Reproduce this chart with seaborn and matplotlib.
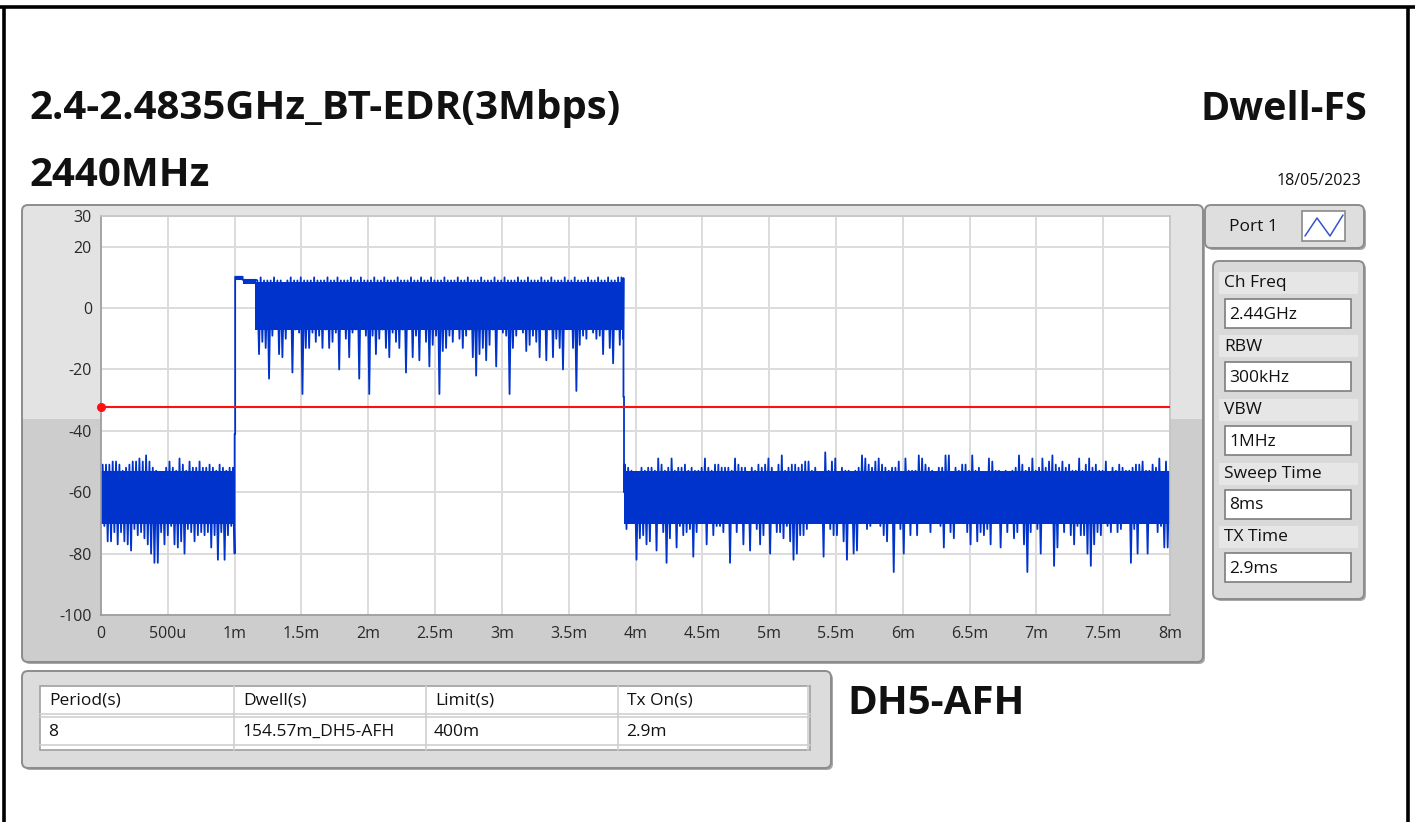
import numpy as np
import pandas as pd
import matplotlib
matplotlib.use("Agg")
import matplotlib.pyplot as plt
from matplotlib.patches import FancyBboxPatch, Rectangle
import seaborn as sns

# ---------------------------------------------------------------- data ----
title_left = "2.4-2.4835GHz_BT-EDR(3Mbps)"
title_right = "Dwell-FS"
channel_label = "2440MHz"
test_date = "18/05/2023"
packet_label = "DH5-AFH"
port_label = "Port 1"

param_names = ["Ch Freq", "RBW", "VBW", "Sweep Time", "TX Time"]
param_values = ["2.44GHz", "300kHz", "1MHz", "8ms", "2.9ms"]

table_header = ["Period(s)", "Dwell(s)", "Limit(s)", "Tx On(s)"]
table_row = ["8", "154.57m_DH5-AFH", "400m", "2.9m"]

time_ticks = [0, 0.5, 1, 1.5, 2, 2.5, 3, 3.5, 4, 4.5, 5, 5.5, 6, 6.5, 7, 7.5, 8]
time_labels = ["0", "500u", "1m", "1.5m", "2m", "2.5m", "3m", "3.5m", "4m",
               "4.5m", "5m", "5.5m", "6m", "6.5m", "7m", "7.5m", "8m"]
level_ticks = [30, 20, 0, -20, -40, -60, -80, -100]

limit_db = -32.2          # detection threshold (red line)
bin_ms = 0.025            # trace bin width, ms

# Idle noise before the packet: per-bin peak / trough (dBm)
idle_pre_start = 0.0125
idle_pre_hi = [-51, -51, -51, -50, -50, -51, -53, -52, -51, -50,
               -50, -49, -50, -48, -50, -52, -53, -55, -55, -52,
               -50, -52, -53, -49, -51, -53, -50, -52, -52, -50,
               -52, -52, -51, -52, -53, -51, -52, -53, -52, -52]
idle_pre_lo = [-71, -76, -76, -73, -77, -73, -76, -77, -79, -72,
               -74, -73, -75, -77, -80, -83, -83, -73, -77, -74,
               -71, -77, -78, -76, -80, -72, -73, -76, -74, -73,
               -74, -73, -78, -74, -82, -73, -82, -74, -71, -80]

# Packet (burst) body
burst_start = 1.17
burst_hi = [9, 10, 9, 9, 9, 10, 9, 9, 8, 9,
            10, 9, 9, 10, 9, 9, 9, 10, 9, 9,
            9, 10, 9, 9, 10, 9, 9, 9, 10, 9,
            9, 10, 9, 9, 9, 10, 9, 9, 10, 9,
            9, 9, 10, 9, 9, 9, 10, 9, 9, 10,
            9, 9, 10, 9, 9, 9, 10, 9, 9, 9,
            10, 9, 9, 10, 9, 9, 9, 10, 9, 9,
            9, 10, 9, 9, 10, 9, 9, 9, 10, 9,
            9, 10, 9, 9, 9, 10, 9, 9, 10, 9,
            9, 9, 10, 9, 9, 10, 9, 9, 9, 10,
            9, 9, 10, 9, 9, 10, 9, 9, 10, 10]
burst_lo = [-15, -11, -13, -23, -9, -6, -15, -16, -10, -6,
            -21, -7, -8, -28, -13, -13, -8, -11, -9, -13,
            -7, -13, -11, -8, -20, -6, -10, -16, -8, -7,
            -23, -6, -9, -28, -9, -15, -10, -7, -13, -16,
            -8, -11, -13, -7, -21, -6, -16, -9, -17, -6,
            -11, -19, -12, -9, -28, -14, -13, -9, -11, -6,
            -10, -13, -9, -7, -16, -22, -15, -13, -17, -12,
            -7, -19, -6, -8, -9, -28, -13, -9, -6, -8,
            -14, -12, -9, -11, -16, -7, -17, -7, -16, -10,
            -13, -20, -6, -6, -13, -27, -12, -9, -10, -6,
            -8, -10, -9, -15, -7, -13, -18, -7, -12, -10]

# Idle noise after the packet
idle_post_start = 3.92
idle_post_hi = [-51, -52, -53, -55, -54, -52, -53, -52, -52, -53,
                -49, -51, -53, -52, -49, -53, -52, -52, -51, -53,
                -52, -53, -53, -52, -49, -52, -53, -51, -51, -52,
                -52, -52, -53, -49, -51, -52, -52, -55, -52, -53,
                -51, -52, -51, -49, -52, -57, -51, -48, -53, -52,
                -51, -51, -52, -51, -50, -50, -53, -52, -55, -54,
                -47, -53, -50, -49, -55, -52, -53, -53, -56, -53,
                -52, -48, -49, -51, -52, -50, -49, -51, -52, -53,
                -52, -52, -50, -55, -49, -53, -53, -53, -48, -49,
                -51, -52, -53, -54, -52, -52, -48, -48, -54, -52,
                -53, -51, -51, -53, -48, -53, -52, -55, -55, -49,
                -50, -53, -53, -57, -53, -55, -53, -52, -48, -51,
                -53, -52, -49, -53, -52, -49, -52, -50, -48, -51,
                -52, -50, -52, -51, -53, -53, -49, -53, -51, -49,
                -52, -51, -53, -53, -50, -54, -52, -53, -51, -52,
                -53, -53, -52, -51, -51, -50, -53, -53, -51, -52,
                -49, -55, -50, -55]
idle_post_lo = [-72, -67, -68, -82, -75, -74, -77, -76, -65, -79,
                -69, -73, -83, -75, -66, -78, -71, -74, -73, -72,
                -81, -73, -69, -66, -77, -65, -74, -71, -71, -73,
                -67, -83, -66, -73, -70, -77, -65, -79, -66, -72,
                -77, -74, -66, -80, -69, -73, -73, -75, -71, -76,
                -82, -80, -74, -74, -72, -66, -70, -65, -68, -81,
                -67, -72, -74, -74, -66, -76, -82, -66, -80, -79,
                -70, -66, -72, -71, -66, -68, -71, -74, -76, -70,
                -86, -70, -72, -80, -65, -74, -65, -74, -67, -70,
                -65, -73, -70, -67, -71, -78, -65, -73, -75, -69,
                -68, -70, -73, -77, -66, -76, -73, -74, -72, -77,
                -66, -70, -78, -66, -73, -69, -75, -73, -66, -77,
                -86, -73, -67, -72, -80, -65, -69, -69, -84, -78,
                -66, -73, -66, -74, -77, -71, -74, -74, -80, -84,
                -77, -73, -74, -70, -71, -73, -66, -73, -72, -65,
                -66, -83, -72, -80, -65, -67, -80, -70, -66, -73,
                -71, -78, -78, -69]

# Level range that the trace fills solidly in each state
idle_body = (-70.5, -53.0)
burst_body = (-7.0, 8.6)

# Packet switch-on and switch-off edges
rise_t = [1.0, 1.0, 1.004, 1.004, 1.06, 1.06, 1.16]
rise_db = [-80, -41, -41, 10.2, 10.2, 9.2, 9.2]
ramp_t = [1.004, 1.06, 1.06, 1.16]
ramp_hi = [10.0, 10.0, 9.0, 9.0]
ramp_lo = [9.0, 9.0, 7.8, 7.8]
fall_t = [3.91, 3.91, 3.914, 3.914, 3.92]
fall_db = [9.8, -29, -29, -60, -60]

# -------------------------------------------------------------- style -----
sns.set_theme(style="white")
plt.rcParams["font.family"] = ["Open Sans", "DejaVu Sans"]

TRACE = "#0033cc"
INK = "#111111"
W, H = 1415, 822
fig = plt.figure(figsize=(W / 100, H / 100), dpi=100)
fig.patch.set_facecolor("white")

bg = fig.add_axes([0, 0, 1, 1])
bg.set_xlim(0, W)
bg.set_ylim(H, 0)
bg.axis("off")


def panel(x0, y0, x1, y1, top="#e3e3e3", bottom="#cdcdcd", split=None, r=6):
    style = f"round,pad=0,rounding_size={r}"
    bg.add_patch(FancyBboxPatch((x0 + 2, y0 + 2), x1 - x0, y1 - y0, boxstyle=style,
                                fc="#a8a8a8", ec="none", zorder=1))
    body = FancyBboxPatch((x0, y0), x1 - x0, y1 - y0, boxstyle=style,
                          fc=bottom if split else top, ec="none", zorder=2)
    bg.add_patch(body)
    if split:
        hl = Rectangle((x0, y0), x1 - x0, split - y0, fc=top, ec="none", zorder=2)
        bg.add_patch(hl)
        hl.set_clip_path(body)
    bg.add_patch(FancyBboxPatch((x0, y0), x1 - x0, y1 - y0, boxstyle=style,
                                fc="none", ec="#8c8c8c", lw=1.4, zorder=3))


def field(x0, y0, x1, y1, text, size=12.5):
    bg.add_patch(Rectangle((x0, y0), x1 - x0, y1 - y0, fc="white", ec="#7d7d7d",
                           lw=1.2, zorder=4))
    bg.text(x0 + 4, (y0 + y1) / 2 + 1, text, fontsize=size, color=INK,
            ha="left", va="center", zorder=5)


# outer frame
bg.plot([0, W], [7, 7], color="black", lw=2.6, solid_capstyle="butt")
bg.plot([3.5, 3.5], [7, H], color="black", lw=2.6, solid_capstyle="butt")
bg.plot([1407.5, 1407.5], [7, H], color="black", lw=2.6, solid_capstyle="butt")

# headings
bg.text(29, 109, title_left, fontsize=29, fontweight="bold", color=INK,
        ha="left", va="center")
bg.text(1367, 109, title_right, fontsize=28.5, fontweight="bold", color=INK,
        ha="right", va="center")
bg.text(29, 175, channel_label, fontsize=29, fontweight="bold", color=INK,
        ha="left", va="center")
bg.text(1361, 181, test_date, fontsize=11.5, color=INK, ha="right", va="center")
bg.text(847, 703, packet_label, fontsize=29, fontweight="bold", color=INK,
        ha="left", va="center")

# graph panel
panel(22, 205, 1203, 662, split=419)

# port panel with trace icon
panel(1205, 205, 1364, 248, top="#dedede")
bg.text(1229, 227, port_label, fontsize=12.5, color=INK, ha="left", va="center", zorder=5)
bg.add_patch(Rectangle((1302, 211), 43, 30, fc="white", ec="#8a8a8a", lw=1.2, zorder=4))
bg.plot([1305, 1317, 1330, 1343], [236, 218, 236, 215], color="#3355cc", lw=1.1, zorder=5)

# parameter panel
panel(1213, 261, 1364, 599, top="#d9d9d9")
for i, (name, value) in enumerate(zip(param_names, param_values)):
    y = 283 + 63.5 * i
    bg.add_patch(Rectangle((1219, y - 11), 139, 22, fc="#e6e6e6", ec="none", zorder=3))
    bg.text(1224, y, name, fontsize=12.5, color=INK, ha="left", va="center", zorder=5)
    field(1225, y + 16, 1351, y + 45, value)

# results table
panel(22, 671, 831, 768, top="#dcdcdc")
bg.add_patch(Rectangle((40, 686), 770, 64, fc="white", ec="#a0a0a0", lw=1.2, zorder=4))
col_x = [40, 234, 426, 618]
for x in col_x[1:] + [808]:
    bg.plot([x, x], [686, 750], color="#d0d0d0", lw=1.2, zorder=5)
for y in (714, 717, 745):
    bg.plot([40, 810], [y, y], color="#cfcfcf", lw=1.2, zorder=5)
for x, h, v in zip(col_x, table_header, table_row):
    bg.text(x + 9, 700, h, fontsize=12.5, color=INK, ha="left", va="center", zorder=6)
    bg.text(x + 8, 732, v, fontsize=12.5, color=INK, ha="left", va="center", zorder=6)

# ------------------------------------------------------------ graph -------
x0, y0, x1, y1 = 101, 216, 1170, 615
ax = fig.add_axes([x0 / W, 1 - y1 / H, (x1 - x0) / W, (y1 - y0) / H])
ax.set_facecolor("white")
ax.set_xlim(0, 8)
ax.set_ylim(-100, 30)
ax.set_axisbelow(True)
ax.grid(True, color="#dcdcdc", lw=1.4)
ax.set_xticks(time_ticks)
ax.set_xticklabels(time_labels)
ax.set_yticks(level_ticks)
ax.set_yticklabels([str(v) for v in level_ticks])
ax.tick_params(axis="both", direction="out", length=5, width=1.3, color="#444444",
               labelsize=11.5, labelcolor="#2a2a2a")
ax.tick_params(axis="x", pad=3)
ax.tick_params(axis="y", pad=1.5)
for side, sp in ax.spines.items():
    sp.set_color("#9a9a9a" if side in ("left", "bottom") else "#c4c4c4")
    sp.set_linewidth(1.2)


def zigzag(start, hi, lo):
    """Peak at the start of each bin, trough half a bin later."""
    t = start + bin_ms * np.arange(len(hi))
    tt = np.column_stack([t, t + bin_ms / 2]).ravel()
    vv = np.column_stack([hi, lo]).ravel()
    return list(tt), list(vv)


# solid part of each state
for (a, b), body in (((0.0, 1.0), idle_body), ((1.155, 3.91), burst_body),
                     ((3.914, 8.0), idle_body)):
    ax.fill_between([a, b], [body[0]] * 2, [body[1]] * 2, color=TRACE, lw=0)
ax.fill_between(ramp_t, ramp_lo, ramp_hi, color=TRACE, lw=0)

# the full sweep as one continuous trace
pre_t, pre_v = zigzag(idle_pre_start, idle_pre_hi, idle_pre_lo)
bur_t, bur_v = zigzag(burst_start, burst_hi, burst_lo)
post_t, post_v = zigzag(idle_post_start, idle_post_hi, idle_post_lo)
trace = pd.DataFrame({
    "t": pre_t + rise_t + bur_t + fall_t + post_t,
    "db": pre_v + rise_db + bur_v + fall_db + post_v,
})
sns.lineplot(data=trace, x="t", y="db", estimator=None, sort=False,
             color=TRACE, lw=1.3, ax=ax, legend=False)
ax.set_xlabel("")
ax.set_ylabel("")

ax.axhline(limit_db, color="#ff1010", lw=1.5, zorder=6)
ax.plot([0], [limit_db], "o", color="#ff1010", ms=5.5, clip_on=False, zorder=7)

fig.savefig("out.png", dpi=100, facecolor="white")
